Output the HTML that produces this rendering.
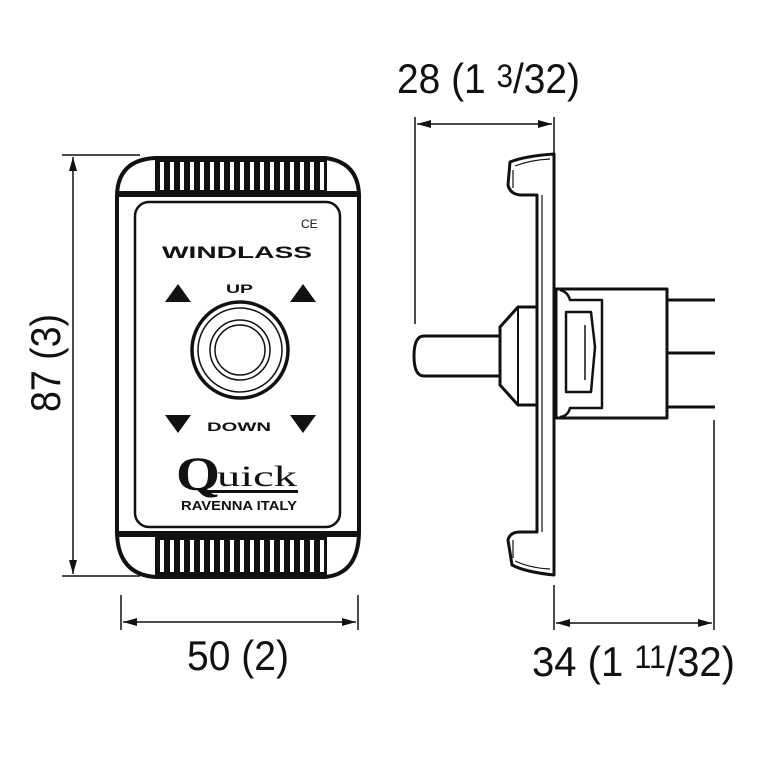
<!DOCTYPE html>
<html><head><style>body{margin:0;background:#fff}svg{display:block}</style></head><body>
<svg width="760" height="760" viewBox="0 0 760 760" xmlns="http://www.w3.org/2000/svg" font-family="Liberation Sans, sans-serif">
<defs>
<marker id="a" markerWidth="14" markerHeight="8" refX="14" refY="4" orient="auto-start-reverse" markerUnits="userSpaceOnUse"><path d="M0,0 L14,4 L0,8 Z" fill="#111"/></marker>
</defs>
<g stroke="#111" stroke-width="1.5" fill="none">
<line x1="62" y1="155" x2="140" y2="155"/>
<line x1="62" y1="576" x2="140" y2="576"/>
<line x1="73" y1="157" x2="73" y2="574" marker-start="url(#a)" marker-end="url(#a)"/>
<line x1="121" y1="595" x2="121" y2="630"/>
<line x1="358" y1="595" x2="358" y2="630"/>
<line x1="123" y1="622" x2="356" y2="622" marker-start="url(#a)" marker-end="url(#a)"/>
<line x1="415" y1="117" x2="415" y2="324"/>
<line x1="554" y1="117" x2="554" y2="154"/>
<line x1="417" y1="124" x2="552" y2="124" marker-start="url(#a)" marker-end="url(#a)"/>
<line x1="554" y1="585" x2="554" y2="630"/>
<line x1="714" y1="420" x2="714" y2="630"/>
<line x1="556" y1="623" x2="712" y2="623" marker-start="url(#a)" marker-end="url(#a)"/>
</g>
<g fill="#111">
<text x="397" y="93" font-size="42" textLength="183" lengthAdjust="spacingAndGlyphs">28 (1 <tspan font-size="32" dy="-6">3</tspan><tspan dy="6">/32)</tspan></text>
<text x="532" y="676" font-size="42" textLength="203" lengthAdjust="spacingAndGlyphs">34 (1 <tspan font-size="32" dy="-8">11</tspan><tspan dy="8">/32)</tspan></text>
<text x="187" y="670" font-size="42" textLength="102" lengthAdjust="spacingAndGlyphs">50 (2)</text>
<text transform="translate(60,412) rotate(-90)" font-size="42" textLength="98" lengthAdjust="spacingAndGlyphs">87 (3)</text>
</g>
<g stroke="#111" fill="none">
<path d="M117,195 Q118,160 155,158 L325,158 Q358,162 359,195 L359,533 Q358,574 325,577 L155,577 Q118,574 117,533 Z" stroke-width="4" fill="#fff"/>
<rect x="117" y="191" width="242" height="6" fill="#111" stroke="none"/>
<rect x="117" y="531" width="242" height="6" fill="#111" stroke="none"/>
<rect x="155" y="157" width="172" height="36" fill="#111" stroke="none"/>
<rect x="155" y="536" width="172" height="40" fill="#111" stroke="none"/>
<rect x="135" y="202" width="205" height="325" rx="14" stroke-width="2.5" fill="#fff"/>
<circle cx="240" cy="350" r="48" stroke-width="3.5"/>
<circle cx="240" cy="350" r="42" stroke-width="1.5"/>
<circle cx="240" cy="350" r="30" stroke-width="1.5"/>
<circle cx="240" cy="350" r="25" stroke-width="1.5"/>
</g>
<g fill="#fff">
<rect x="160" y="162" width="4" height="28"/><rect x="170" y="162" width="4" height="28"/><rect x="180" y="162" width="4" height="28"/><rect x="190" y="162" width="4" height="28"/><rect x="200" y="162" width="4" height="28"/><rect x="210" y="162" width="4" height="28"/><rect x="220" y="162" width="4" height="28"/><rect x="230" y="162" width="4" height="28"/><rect x="240" y="162" width="4" height="28"/><rect x="250" y="162" width="4" height="28"/><rect x="260" y="162" width="4" height="28"/><rect x="270" y="162" width="4" height="28"/><rect x="280" y="162" width="4" height="28"/><rect x="290" y="162" width="4" height="28"/><rect x="300" y="162" width="4" height="28"/><rect x="310" y="162" width="4" height="28"/><rect x="320" y="162" width="4" height="28"/>
<rect x="160" y="540" width="4" height="32"/><rect x="170" y="540" width="4" height="32"/><rect x="180" y="540" width="4" height="32"/><rect x="190" y="540" width="4" height="32"/><rect x="200" y="540" width="4" height="32"/><rect x="210" y="540" width="4" height="32"/><rect x="220" y="540" width="4" height="32"/><rect x="230" y="540" width="4" height="32"/><rect x="240" y="540" width="4" height="32"/><rect x="250" y="540" width="4" height="32"/><rect x="260" y="540" width="4" height="32"/><rect x="270" y="540" width="4" height="32"/><rect x="280" y="540" width="4" height="32"/><rect x="290" y="540" width="4" height="32"/><rect x="300" y="540" width="4" height="32"/><rect x="310" y="540" width="4" height="32"/><rect x="320" y="540" width="4" height="32"/>
</g>
<g fill="#111">
<text x="301" y="228" font-size="12">CE</text>
<text x="162" y="258" font-size="17" font-weight="bold" textLength="150" lengthAdjust="spacingAndGlyphs">WINDLASS</text>
<text x="226" y="293" font-size="12" font-weight="bold" textLength="27" lengthAdjust="spacingAndGlyphs">UP</text>
<text x="207" y="431" font-size="12" font-weight="bold" textLength="64" lengthAdjust="spacingAndGlyphs">DOWN</text>
<path d="M165,302 L178,284 L191,302 Z"/><path d="M290,302 L303,284 L316,302 Z"/>
<path d="M165,415 L178,433 L191,415 Z"/><path d="M290,415 L303,433 L316,415 Z"/>
<text x="176" y="490" font-size="48" font-weight="bold" font-family="Liberation Serif, serif" textLength="44" lengthAdjust="spacingAndGlyphs">Q</text>
<text x="217" y="486" font-size="30" font-family="Liberation Serif, serif" textLength="80" lengthAdjust="spacingAndGlyphs">uick</text>
<rect x="205" y="490" width="93" height="3"/>
<text x="181" y="510" font-size="12.5" font-weight="bold" textLength="116" lengthAdjust="spacingAndGlyphs">RAVENNA ITALY</text>
</g>
<g stroke="#111" stroke-width="3" fill="#fff" stroke-linejoin="round">
<path d="M554,154 L554,575 Q525,572 512,565 L508,540 Q510,532 520,532 L537,532 L537,195 L520,195 Q510,194 508,185 L510,162 Q525,156 554,154 Z"/>
<path d="M515,166 Q530,160 550,159 M515,561 Q530,568 550,569" stroke-width="1.2" fill="none"/>
<path d="M513,170 L513,188 M513,540 L513,558" stroke-width="1.2" fill="none"/>
<line x1="542" y1="195" x2="542" y2="532" stroke-width="1.2"/>
<path d="M424,336 L500,336 L500,376 L424,376 Q414,376 414,356 Q414,336 424,336 Z"/>
<path d="M537,307 L518,307 L500,327 L500,385 L518,405 L537,405 Z"/>
<line x1="518" y1="307" x2="518" y2="405" stroke-width="2"/>
<rect x="556" y="289" width="111" height="129"/>
<path d="M560,290 Q568,292 570,300 L602,300 L602,408 L570,408 Q568,416 560,417" fill="none" stroke-width="2.5"/>
<path d="M566,312 L591,312 L595,347 L591,392 L566,392 Z" stroke-width="2.5"/>
<line x1="585" y1="325" x2="585" y2="380" stroke-width="1.5"/>
<line x1="667" y1="300" x2="715" y2="300"/>
<line x1="667" y1="353" x2="715" y2="353"/>
<line x1="667" y1="407" x2="715" y2="407"/>
</g>
</svg>
</body></html>
